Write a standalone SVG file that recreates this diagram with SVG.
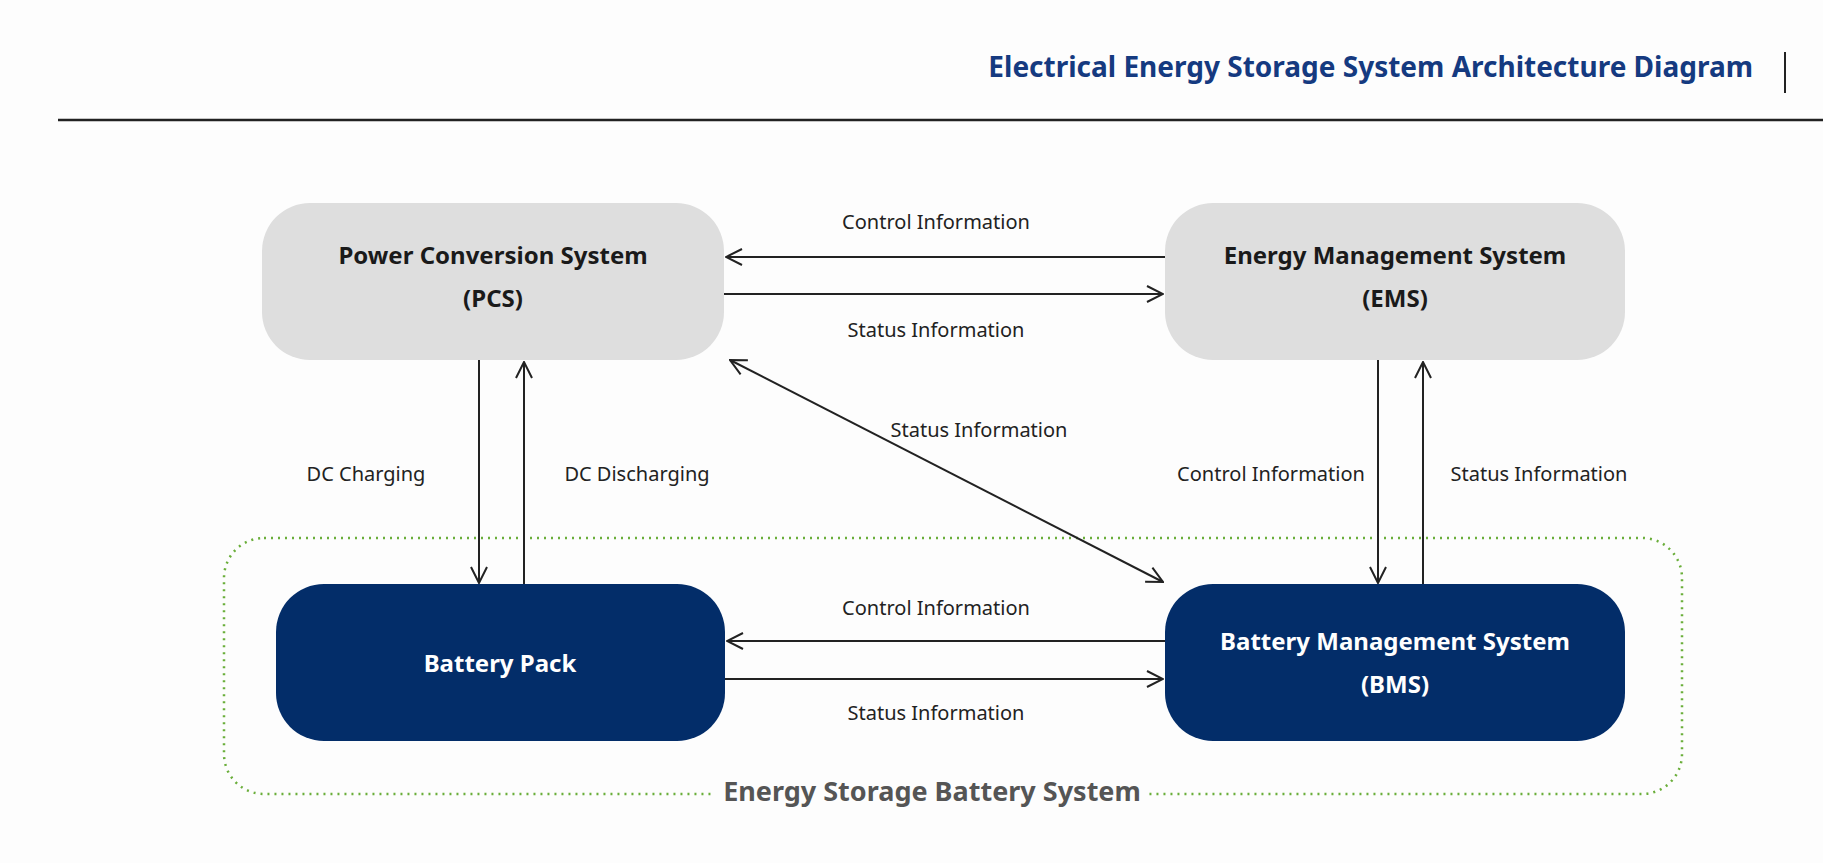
<svg xmlns="http://www.w3.org/2000/svg" width="1823" height="863" viewBox="0 0 1823 863">
<style>
text{font-family:"Noto Sans","Liberation Sans",sans-serif;text-anchor:middle}
.lbl{font-size:20px;fill:#222}
.nt{font-size:24px;font-weight:bold}
.light rect{fill:#dedede}
.light text{fill:#1a1a1a}
.dark rect{fill:#032d69}
.dark text{fill:#fff}
.c line{stroke:#222;stroke-width:2;fill:none}
</style>
<defs>
<marker id="a" viewBox="0 0 20 20" refX="19" refY="10" markerWidth="20" markerHeight="20" markerUnits="userSpaceOnUse" orient="auto-start-reverse">
<path d="M3,2 L19,10 L3,18" fill="none" stroke="#222" stroke-width="2"/>
</marker>
</defs>
<rect width="1823" height="863" fill="#fdfdfd"/>
<g id="header">
<text x="1753" y="77" style="font-size:28px;font-weight:bold;fill:#153a80;text-anchor:end">Electrical Energy Storage System Architecture Diagram</text>
<line x1="1785" y1="52" x2="1785" y2="93" stroke="#222" stroke-width="2"/>
<line x1="58" y1="120" x2="1823" y2="120" stroke="#222" stroke-width="2.5"/>
</g>
<g id="container">
<rect x="224" y="538" width="1458" height="256" rx="40" fill="none" stroke="#6aae3a" stroke-width="2.5" stroke-dasharray="2 5"/>
<rect x="715" y="770" width="434" height="40" fill="#fdfdfd"/>
<text x="932" y="801" style="font-size:27px;font-weight:bold;fill:#555">Energy Storage Battery System</text>
</g>
<g id="pcs" class="light"><rect x="262" y="203" width="462" height="157" rx="48"/><text class="nt" x="493" y="264">Power Conversion System</text><text class="nt" x="493" y="307">(PCS)</text></g>
<g id="ems" class="light"><rect x="1165" y="203" width="460" height="157" rx="48"/><text class="nt" x="1395" y="264">Energy Management System</text><text class="nt" x="1395" y="307">(EMS)</text></g>
<g id="battery" class="dark"><rect x="276" y="584" width="449" height="157" rx="48"/><text class="nt" x="500" y="672">Battery Pack</text></g>
<g id="bms" class="dark"><rect x="1165" y="584" width="460" height="157" rx="48"/><text class="nt" x="1395" y="650">Battery Management System</text><text class="nt" x="1395" y="693">(BMS)</text></g>
<g id="connectors" class="c">
<line x1="1165" y1="257" x2="726" y2="257" marker-end="url(#a)"/>
<line x1="724" y1="294" x2="1163" y2="294" marker-end="url(#a)"/>
<line x1="1165" y1="641" x2="727" y2="641" marker-end="url(#a)"/>
<line x1="725" y1="679" x2="1163" y2="679" marker-end="url(#a)"/>
<line x1="479" y1="360" x2="479" y2="583" marker-end="url(#a)"/>
<line x1="524" y1="584" x2="524" y2="362" marker-end="url(#a)"/>
<line x1="1378" y1="360" x2="1378" y2="583" marker-end="url(#a)"/>
<line x1="1423" y1="584" x2="1423" y2="362" marker-end="url(#a)"/>
<line x1="730" y1="360" x2="1163" y2="582" marker-start="url(#a)" marker-end="url(#a)"/>
</g>
<g id="labels">
<text class="lbl" x="936" y="229">Control Information</text>
<text class="lbl" x="936" y="337">Status Information</text>
<text class="lbl" x="936" y="615">Control Information</text>
<text class="lbl" x="936" y="720">Status Information</text>
<text class="lbl" x="366" y="481">DC Charging</text>
<text class="lbl" x="637" y="481">DC Discharging</text>
<text class="lbl" x="1271" y="481">Control Information</text>
<text class="lbl" x="1539" y="481">Status Information</text>
<text class="lbl" x="979" y="437">Status Information</text>
</g>
</svg>
